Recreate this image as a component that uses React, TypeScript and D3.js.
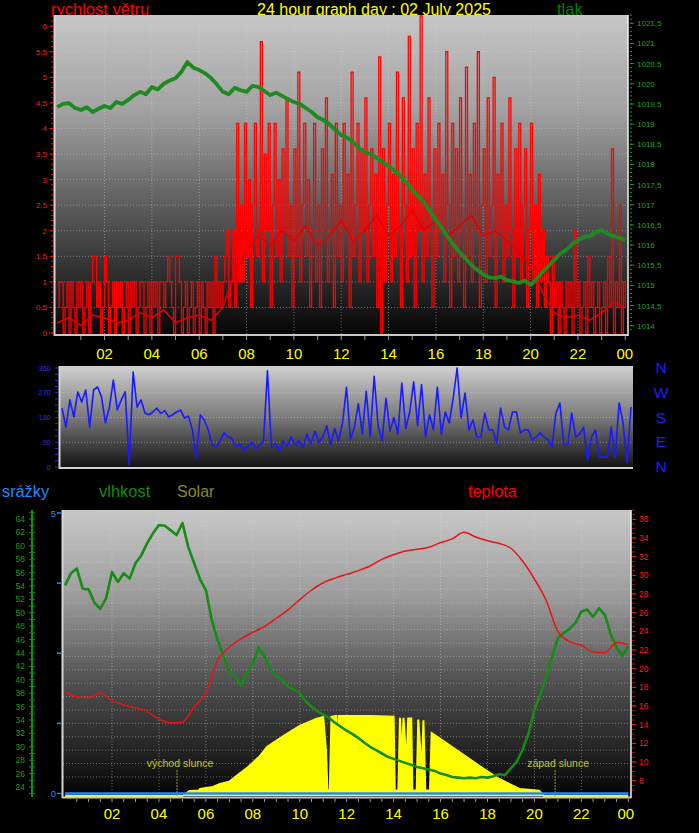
import React from "react";
import * as d3 from "d3";

// ---------------- DATA ----------------
const hourTickValues = [2, 4, 6, 8, 10, 12, 14, 16, 18, 20, 22, 24];
const hourTickLabels = ["02", "04", "06", "08", "10", "12", "14", "16", "18", "20", "22", "00"];

// wind speed (m/s), sampled every 5 minutes 00:00 .. 24:00
const windSpeed = [
  0.5, 1, 1, 0, 0.5, 1, 0, 1, 0.5, 0, 1, 0.5,
  1, 0, 0.5, 1, 0, 1, 1.5, 1.5, 0.5, 1, 0, 0.5,
  1.5, 1, 0, 0.5, 1, 0, 1, 0.5, 1, 0, 0.5, 1,
  0, 1, 0.5, 1, 0, 0.5, 1, 1, 0, 0.5, 1, 0,
  1, 0.5, 1, 0, 1, 1, 0.5, 1, 1.5, 1, 0.5, 0,
  1.5, 1.5, 1, 0, 0.5, 1, 0, 0.5, 1, 0, 0.5, 1,
  0, 1, 0.5, 0, 1, 0.5, 1, 0, 1.5, 0.5, 1, 0.5,
  1, 1.5, 2, 0.5, 1, 2, 0.5, 4.1, 1, 2.5, 1, 4.1,
  1.5, 3, 0.5, 2.5, 4.1, 1.5, 2, 5.7, 1, 3.5, 2, 4.1,
  0.5, 2.5, 4.1, 1.5, 3, 1, 3.6, 2, 4.6, 1.5, 2.5, 0.5,
  3.6, 1.5, 5.1, 1, 2.5, 4.1, 1.5, 3, 0.5, 2, 4.1, 1,
  2.5, 0.5, 3.6, 2, 4.6, 1, 2, 3.1, 0.5, 4.1, 1.5, 2.5,
  1, 4.1, 2, 3.1, 0.5, 5.1, 1.5, 2.5, 4.1, 1, 3.6, 2,
  4.6, 1, 2.5, 3.6, 1.5, 3.1, 0.5, 5.4, 0, 3.6, 1, 2.5,
  4.1, 1, 3.1, 1.5, 5.1, 2, 0.5, 4.6, 2.5, 1, 5.8, 1.5,
  3.6, 0.5, 4.1, 2, 6.2, 1, 3.1, 1.5, 4.6, 2, 0.5, 3.6,
  1.5, 4.1, 2, 3.1, 1, 5.5, 2.5, 0.5, 4.1, 1.5, 3.6, 1,
  4.6, 2, 0.5, 5.2, 1.5, 3.1, 1, 4.1, 2, 5.5, 0.5, 2.5,
  3.6, 1, 4.6, 1.5, 2.5, 5, 0.5, 3.1, 2, 4.1, 1, 2.5,
  1.5, 4.6, 2, 0.5, 3.6, 1.5, 4.1, 1, 2.5, 3.6, 0.5, 2,
  4.1, 1, 2.5, 0.5, 3.1, 1, 2, 0.5, 1.5, 1, 0, 1.5,
  0.5, 1, 0, 1, 0.5, 0, 1, 0.5, 1, 0, 2, 0.5,
  1, 0, 0.5, 1, 0, 1.5, 0.5, 1, 0, 0.5, 1, 0,
  0.5, 1, 0, 1.5, 0.5, 3.6, 0, 1, 0.5, 2.5, 0, 1,
  0.5,
];

// average wind speed (m/s), every 30 minutes
const windAverage = [
  0.2, 0.3, 0.15, 0.35, 0.3, 0.2, 0.25, 0.4, 0.3, 0.45, 0.2, 0.3, 0.35, 0.25, 0.5,
  1.2, 1.6, 1.9, 1.7, 2.0, 1.8, 2.1, 1.7, 1.9, 2.2, 1.8, 2.0, 2.3, 1.9, 2.1, 2.4,
  2.0, 2.2, 1.9, 2.1, 2.3, 1.9, 2.0, 1.8, 1.6, 1.3, 0.8, 0.4, 0.3, 0.35, 0.25, 0.4,
  0.6, 0.5,
];

// pressure (hPa), every 15 minutes
const pressure = [
  1019.42, 1019.50, 1019.52, 1019.40, 1019.35, 1019.42, 1019.30, 1019.38,
  1019.45, 1019.40, 1019.55, 1019.50, 1019.60, 1019.72, 1019.80, 1019.74,
  1019.92, 1019.86, 1020.00, 1020.08, 1020.14, 1020.30, 1020.54, 1020.40,
  1020.34, 1020.26, 1020.14, 1019.98, 1019.80, 1019.74, 1019.90, 1019.84,
  1019.80, 1019.95, 1019.92, 1019.82, 1019.72, 1019.78, 1019.70, 1019.62,
  1019.55, 1019.50, 1019.40, 1019.30, 1019.17, 1019.10, 1019.00, 1018.85,
  1018.73, 1018.66, 1018.56, 1018.40, 1018.31, 1018.25, 1018.16, 1018.05,
  1017.96, 1017.85, 1017.71, 1017.55, 1017.37, 1017.22, 1017.05, 1016.85,
  1016.62, 1016.42, 1016.20, 1016.00, 1015.83, 1015.66, 1015.51, 1015.38,
  1015.28, 1015.20, 1015.18, 1015.22, 1015.13, 1015.10, 1015.06, 1015.12,
  1015.01, 1015.15, 1015.33, 1015.48, 1015.63, 1015.78, 1015.88, 1016.02,
  1016.12, 1016.20, 1016.22, 1016.32, 1016.37, 1016.28, 1016.22, 1016.18,
  1016.12,
];

// wind direction (degrees), every 10 minutes
const windDirection = [
  214, 145, 244, 182, 273, 236,
  280, 145, 280, 291, 255, 160,
  218, 316, 207, 244, 273, 7,
  345, 218, 244, 196, 190, 200,
  214, 195, 205, 182, 190, 200,
  207, 178, 185, 135, 33, 189,
  171, 135, 80, 73, 95, 124,
  109, 105, 70, 85, 60, 75,
  90, 65, 80, 95, 350, 70,
  85, 60, 95, 75, 110, 80,
  95, 70, 120, 85, 130, 90,
  110, 150, 80, 140, 95, 160,
  290, 100, 145, 230, 120, 275,
  110, 330, 150, 95, 250, 130,
  180, 120, 305, 140, 200, 310,
  150, 300, 110, 190, 135, 290,
  120, 200, 160, 250, 360, 178,
  269, 135, 171, 109, 109, 196,
  135, 135, 87, 214, 145, 135,
  200, 200, 124, 135, 135, 98,
  110, 124, 110, 98, 73, 196,
  233, 80, 80, 196, 109, 120,
  145, 25, 109, 135, 36, 36,
  36, 145, 36, 233, 160, 15,
  218,
];

// relative humidity (%), every 15 minutes
const humidity = [
  54.1, 55.9, 56.6, 53.6, 53.5, 51.5, 50.6, 52.2, 56.1, 54.6, 55.9, 55.1,
  57.4, 58.6, 60.4, 61.9, 63.1, 63.0, 62.3, 61.6, 63.4, 59.8, 57.4, 55.0,
  53.4, 48.9, 45.9, 43.5, 41.2, 40.5, 39.2, 41.0, 42.5, 44.8, 43.5, 41.5,
  40.5, 40.0, 39.0, 38.5, 38.0, 36.8, 36.0, 35.3, 34.8, 34.3, 33.6, 33.0,
  32.4, 31.9, 31.3, 30.6, 30.0, 29.5, 29.0, 28.5, 28.2, 27.9, 27.6, 27.3,
  27.0, 26.8, 26.6, 26.4, 26.0, 25.8, 25.5, 25.4, 25.3, 25.4, 25.3, 25.5,
  25.4, 25.6, 25.9, 25.8, 26.8, 27.8, 29.6, 32.0, 35.5, 37.8, 40.5, 43.4,
  46.2, 47.0, 47.6, 48.5, 50.2, 50.5, 49.4, 50.7, 49.7, 46.8, 44.8, 43.6,
  45.0,
];

// temperature (°C), every 30 minutes
const temperature = [
  17.5, 17.0, 16.9, 17.4, 16.6, 16.1, 15.8, 15.4, 14.6, 14.2,
  14.3, 15.9, 17.4, 20.9, 22.3, 23.2, 23.9, 24.5, 25.4, 26.3,
  27.4, 28.4, 29.2, 29.7, 30.1, 30.5, 31.0, 31.7, 32.2, 32.6,
  32.8, 33.0, 33.5, 33.9, 34.6, 34.1, 33.7, 33.4, 32.9, 31.5,
  29.6, 27.3, 24.0, 22.9, 22.5, 21.8, 21.7, 22.8, 22.6,
];

// solar radiation (W/m²)
const solarHours = [
  0, 5.0, 5.3, 5.7, 5.75, 6.3, 6.6, 7.0, 7.3, 7.8, 8.3, 8.6, 9.3, 10.0, 10.7, 11.0,
  11.12, 11.18, 11.28, 11.35, 11.55, 11.6, 11.66, 12.0, 13.0, 14.0, 14.05, 14.2, 14.27,
  14.35, 14.42, 14.55, 14.62, 14.75, 14.8, 14.98, 15.05, 15.2, 15.27, 15.35, 15.55,
  15.62, 16.0, 16.8, 17.66, 18.5, 19.36, 20.2, 20.4, 24,
];
const solarRadiation = [
  0, 0, 56, 60, 78, 100, 133, 160, 222, 322, 444, 544, 667, 778, 856, 878,
  500, 60, 60, 880, 889, 300, 889, 889, 889, 880, 60, 60, 870,
  400, 870, 350, 860, 860, 60, 60, 850, 250, 840, 60, 60,
  700, 633, 489, 333, 189, 78, 59, 0, 0,
];

// rainfall (mm), hourly
const rainfall = [0, 0, 0, 0, 0, 0, 0, 0, 0, 0, 0, 0, 0, 0, 0, 0, 0, 0, 0, 0, 0, 0, 0, 0, 0];

const sunriseHour = 4.77;
const sunsetHour = 20.88;
const sunriseLabel = "východ slunce";
const sunsetLabel = "západ slunce";

const windTicks = [0, 0.5, 1, 1.5, 2, 2.5, 3, 3.5, 4, 4.5, 5, 5.5, 6];
const pressureTicks = [1014, 1014.5, 1015, 1015.5, 1016, 1016.5, 1017, 1017.5, 1018, 1018.5, 1019, 1019.5, 1020, 1020.5, 1021, 1021.5];
const directionTicks = [0, 90, 180, 270, 360];
const directionLetters = ["N", "W", "S", "E", "N"];
const humidityTicks = [24, 26, 28, 30, 32, 34, 36, 38, 40, 42, 44, 46, 48, 50, 52, 54, 56, 58, 60, 62, 64];
const temperatureTicks = [8, 10, 12, 14, 16, 18, 20, 22, 24, 26, 28, 30, 32, 34, 36];
const rainTicks = [0, 5];

const titleText = "24 hour graph day : 02 July 2025";

// ---------------- CHART ----------------
const fmt = (v: number) => String(v).replace(".", ",");
const FONT = "'Liberation Sans', Arial, Helvetica, sans-serif";

export default function App() {
  // top panel
  const T = { l: 55, r: 628, t: 15, b: 334 };
  const xTop = d3.scaleLinear().domain([0, 24]).range([57.2, 625.3]);
  const windY = d3.scaleLinear().domain([0, 6]).range([333, 26.2]);
  const pressY = d3.scaleLinear().domain([1014, 1021.5]).range([325.7, 23.3]);

  // middle panel
  const M = { l: 60, r: 633, t: 366, b: 468 };
  const xMid = d3.scaleLinear().domain([0, 24]).range([62, 631]);
  const dirY = d3.scaleLinear().domain([0, 360]).range([467, 368]);

  // bottom panel
  const B = { l: 63, r: 631, t: 510, b: 797 };
  const xBot = d3.scaleLinear().domain([0, 24]).range([65.1, 628.3]);
  const humY = d3.scaleLinear().domain([24, 64]).range([787, 519]);
  const tempY = d3.scaleLinear().domain([8, 36]).range([780.7, 519.3]);
  const rainY = d3.scaleLinear().domain([0, 5]).range([793.5, 513]);
  const solarY = d3.scaleLinear().domain([0, 1000]).range([796, 706]);

  const windPath = d3
    .line<number>()
    .x((_, i) => xTop((i * 5) / 60))
    .y((d) => windY(d))
    .curve(d3.curveStepAfter)(windSpeed) as string;
  const windAvgPath = d3
    .line<number>()
    .x((_, i) => xTop(i * 0.5))
    .y((d) => windY(d))(windAverage) as string;
  const pressPath = d3
    .line<number>()
    .x((_, i) => xTop(i * 0.25))
    .y((d) => pressY(d))(pressure) as string;

  const dirPath = d3
    .line<number>()
    .x((_, i) => xMid((i * 10) / 60))
    .y((d) => dirY(d))(windDirection) as string;

  const humPath = d3
    .line<number>()
    .x((_, i) => xBot(i * 0.25))
    .y((d) => humY(d))(humidity) as string;
  const tempPath = d3
    .line<number>()
    .x((_, i) => xBot(i * 0.5))
    .y((d) => tempY(d))
    .curve(d3.curveMonotoneX)(temperature) as string;
  const solarArea = d3
    .area<number>()
    .x((_, i) => xBot(solarHours[i]))
    .y0(solarY(0))
    .y1((d) => solarY(d))(solarRadiation) as string;
  const solarLine = d3
    .line<number>()
    .x((_, i) => xBot(solarHours[i]))
    .y((d) => solarY(d))(solarRadiation) as string;
  const rainPath = d3
    .line<number>()
    .x((_, i) => xBot(i))
    .y((d) => rainY(d))(rainfall) as string;

  const windMinor = d3.range(0, 6.25, 0.1);
  const pressMinor = d3.range(1013.9, 1021.75, 0.1);
  const dirMinor = d3.range(0, 361, 22.5);
  const humMinor = d3.range(23, 66, 1);
  const tempMinor = d3.range(7, 37.1, 0.5);
  const rainMinor = d3.range(0, 5.01, 1.25);
  const hourGrid = [2, 4, 6, 8, 10, 12, 14, 16, 18, 20, 22];
  const humGrid = d3.range(25.5, 65, 2);

  const gridStyle = { stroke: "#d8d8d8", strokeOpacity: 0.45, strokeWidth: 1, strokeDasharray: "1,2" };

  return (
    <svg
      width={699}
      height={833}
      style={{ position: "absolute", left: 0, top: 0, display: "block" }}
      fontFamily={FONT}
    >
      <defs>
        <linearGradient id="gTop" x1="0" y1="0" x2="0" y2="1">
          <stop offset="0" stopColor="#c6c6c6" />
          <stop offset="0.3" stopColor="#a2a2a2" />
          <stop offset="0.6" stopColor="#5c5c5c" />
          <stop offset="1" stopColor="#060606" />
        </linearGradient>
        <linearGradient id="gMid" x1="0" y1="0" x2="0" y2="1">
          <stop offset="0" stopColor="#d0d0d0" />
          <stop offset="0.5" stopColor="#7a7a7a" />
          <stop offset="1" stopColor="#121212" />
        </linearGradient>
        <linearGradient id="gBot" x1="0" y1="0" x2="0" y2="1">
          <stop offset="0" stopColor="#c8c8c8" />
          <stop offset="0.3" stopColor="#9c9c9c" />
          <stop offset="0.6" stopColor="#505050" />
          <stop offset="1" stopColor="#040404" />
        </linearGradient>
        <clipPath id="cTop">
          <rect x={T.l} y={T.t} width={T.r - T.l} height={T.b - T.t} />
        </clipPath>
        <clipPath id="cMid">
          <rect x={M.l} y={M.t} width={M.r - M.l} height={M.b - M.t} />
        </clipPath>
        <clipPath id="cBot">
          <rect x={B.l} y={B.t} width={B.r - B.l} height={B.b - B.t} />
        </clipPath>
      </defs>
      <rect x={0} y={0} width={699} height={833} fill="#000" />

      {/* ---------- titles row 1 ---------- */}
      <text x={51} y={15} fontSize={16.5} fill="#ff0000">rychlost větru</text>
      <text x={257} y={15} fontSize={16} fill="#ffff00">{titleText}</text>
      <text x={557} y={15} fontSize={16.5} fill="#008000">tlak</text>

      {/* ---------- TOP PANEL ---------- */}
      <rect x={T.l} y={T.t} width={T.r - T.l} height={T.b - T.t} fill="url(#gTop)" />
      {windTicks.slice(1).map((v) => (
        <line key={"wg" + v} x1={T.l} x2={T.r} y1={windY(v)} y2={windY(v)} {...gridStyle} />
      ))}
      {hourGrid.map((h) => (
        <line key={"tg" + h} x1={xTop(h)} x2={xTop(h)} y1={T.t} y2={T.b} {...gridStyle} />
      ))}
      <g clipPath="url(#cTop)">
        <path d={windPath} fill="none" stroke="#ff0000" strokeWidth={1.3} />
        <path d={windAvgPath} fill="none" stroke="#e00000" strokeWidth={1.6} />
        <path d={pressPath} fill="none" stroke="#1f8a1f" strokeWidth={3.8} strokeLinejoin="round" />
      </g>
      <line x1={T.l - 0.5} x2={T.l - 0.5} y1={T.t} y2={T.b + 2} stroke="#d4d4d4" strokeWidth={2} />
      <line x1={T.l - 1} x2={T.r} y1={T.b + 1} y2={T.b + 1} stroke="#c8c8c8" strokeWidth={2} />
      <line x1={T.r} x2={T.r} y1={T.t} y2={T.b + 2} stroke="#f0f0f0" strokeWidth={1.5} />

      {/* left wind axis */}
      {windMinor.map((v, i) => (
        <line key={"wm" + i} x1={51} x2={53} y1={windY(v)} y2={windY(v)} stroke="#ff0000" strokeWidth={1} />
      ))}
      {windTicks.map((v) => (
        <g key={"wt" + v}>
          <line x1={49} x2={53} y1={windY(v)} y2={windY(v)} stroke="#ff0000" strokeWidth={1} />
          <text x={47} y={windY(v) + 3} fontSize={8} fill="#ff1a1a" textAnchor="end">{fmt(v)}</text>
        </g>
      ))}
      {/* right pressure axis */}
      {pressMinor.map((v, i) => (
        <line key={"pm" + i} x1={630} x2={632} y1={pressY(v)} y2={pressY(v)} stroke="#1f9a1f" strokeWidth={1} />
      ))}
      {pressureTicks.map((v) => (
        <g key={"pt" + v}>
          <line x1={630} x2={634} y1={pressY(v)} y2={pressY(v)} stroke="#1f9a1f" strokeWidth={1} />
          <text x={637} y={pressY(v) + 3} fontSize={8} fill="#22a022">{fmt(v)}</text>
        </g>
      ))}
      {/* top x axis */}
      {d3.range(1, 25).map((h) => (
        <line key={"tx" + h} x1={xTop(h)} x2={xTop(h)} y1={T.b + 2} y2={T.b + 6} stroke="#9a9a9a" strokeWidth={1} />
      ))}
      {hourTickValues.map((h, i) => (
        <text key={"tl" + h} x={h === 24 ? xTop(h) - 0.5 : xTop(h)} y={359} fontSize={15} fill="#ffff00" textAnchor="middle">
          {hourTickLabels[i]}
        </text>
      ))}

      {/* ---------- MIDDLE PANEL ---------- */}
      <rect x={M.l} y={M.t} width={M.r - M.l} height={M.b - M.t} fill="url(#gMid)" />
      {[90, 180, 270].map((v) => (
        <line key={"dg" + v} x1={M.l} x2={M.r} y1={dirY(v)} y2={dirY(v)} {...gridStyle} />
      ))}
      <g clipPath="url(#cMid)">
        <path d={dirPath} fill="none" stroke="#1a1aff" strokeWidth={1.6} strokeLinejoin="round" />
      </g>
      <line x1={M.l - 0.5} x2={M.l - 0.5} y1={M.t} y2={M.b + 1} stroke="#d4d4d4" strokeWidth={2} />
      <line x1={M.l - 1} x2={M.r} y1={M.b} y2={M.b} stroke="#d0d0d0" strokeWidth={2} />
      {dirMinor.map((v, i) => (
        <line key={"dm" + i} x1={55} x2={58} y1={dirY(v)} y2={dirY(v)} stroke="#2a2aff" strokeWidth={1} />
      ))}
      {directionTicks.map((v) => (
        <text key={"dt" + v} x={51} y={dirY(v) + 2.5} fontSize={7.5} fill="#2a2aff" textAnchor="end">{v}</text>
      ))}
      {directionLetters.map((c, i) => (
        <text key={"dl" + i} x={661} y={373 + i * 24.8} fontSize={15.5} fill="#1e1eff" textAnchor="middle">{c}</text>
      ))}

      {/* ---------- titles row 2 ---------- */}
      <text x={2} y={497} fontSize={16.3} fill="#1e8cff">srážky</text>
      <text x={99} y={497} fontSize={16.5} fill="#128a12">vlhkost</text>
      <text x={177} y={497} fontSize={16} fill="#8a8a1e">Solar</text>
      <text x={468} y={497} fontSize={16.3} fill="#ff0000">teplota</text>

      {/* ---------- BOTTOM PANEL ---------- */}
      <rect x={B.l} y={B.t} width={B.r - B.l} height={B.b - B.t} fill="url(#gBot)" />
      {humGrid.map((v) => (
        <line key={"hg" + v} x1={B.l} x2={B.r} y1={humY(v)} y2={humY(v)} {...gridStyle} />
      ))}
      {hourGrid.map((h) => (
        <line key={"bg" + h} x1={xBot(h)} x2={xBot(h)} y1={B.t} y2={B.b} {...gridStyle} />
      ))}
      <g clipPath="url(#cBot)">
        <path d={solarArea} fill="#ffff00" stroke="none" />
        <path d={solarLine} fill="none" stroke="#ffff00" strokeWidth={2} />
        <line x1={xBot(sunriseHour)} x2={xBot(sunriseHour)} y1={770} y2={B.b} stroke="#9a9a20" strokeWidth={1} strokeDasharray="2,1" />
        <line x1={xBot(sunsetHour)} x2={xBot(sunsetHour)} y1={770} y2={B.b} stroke="#9a9a20" strokeWidth={1} strokeDasharray="2,1" />
        <path d={rainPath} fill="none" stroke="#1e8cff" strokeWidth={2.5} />
        <path d={humPath} fill="none" stroke="#168c16" strokeWidth={2.6} strokeLinejoin="round" />
        <path d={tempPath} fill="none" stroke="#ee1111" strokeWidth={1.5} />
      </g>
      <text x={xBot(sunriseHour) + 3} y={767} fontSize={10.5} fill="#c4c42c" textAnchor="middle">{sunriseLabel}</text>
      <text x={xBot(sunsetHour) + 3} y={767} fontSize={10.5} fill="#c4c42c" textAnchor="middle">{sunsetLabel}</text>
      <line x1={B.l - 0.5} x2={B.l - 0.5} y1={B.t} y2={B.b + 1} stroke="#d4d4d4" strokeWidth={2} />
      <line x1={B.l - 1} x2={B.r} y1={B.b + 0.5} y2={B.b + 0.5} stroke="#c8c8c8" strokeWidth={2} />
      <line x1={B.r} x2={B.r} y1={B.t} y2={B.b + 1} stroke="#f2f2f2" strokeWidth={1.5} />

      {/* humidity axis (far left) */}
      <line x1={32} x2={32} y1={B.t} y2={B.b} stroke="#138f13" strokeWidth={2} />
      {humMinor.map((v) => (
        <line key={"hm" + v} x1={29} x2={35} y1={humY(v)} y2={humY(v)} stroke="#138f13" strokeWidth={1} />
      ))}
      {humidityTicks.map((v) => (
        <text key={"ht" + v} x={25} y={humY(v) + 3} fontSize={8.5} fill="#1c9a1c" textAnchor="end">{v}</text>
      ))}
      {/* rain axis */}
      {rainMinor.map((v, i) => (
        <line key={"rm" + i} x1={57} x2={61} y1={rainY(v)} y2={rainY(v)} stroke="#1e8cff" strokeWidth={1.5} />
      ))}
      {rainTicks.map((v) => (
        <text key={"rt" + v} x={56} y={rainY(v) + 3.5} fontSize={9.5} fill="#1e8cff" textAnchor="end">{v}</text>
      ))}
      {/* temperature axis (right) */}
      {tempMinor.map((v, i) => (
        <line key={"tm" + i} x1={632.5} x2={634.5} y1={tempY(v)} y2={tempY(v)} stroke="#ff1a1a" strokeWidth={1} />
      ))}
      {temperatureTicks.map((v) => (
        <g key={"tt" + v}>
          <line x1={632.5} x2={636.5} y1={tempY(v)} y2={tempY(v)} stroke="#ff1a1a" strokeWidth={1} />
          <text x={639} y={tempY(v) + 3} fontSize={8.5} fill="#ff1a1a">{v}</text>
        </g>
      ))}
      {/* bottom x axis */}
      {d3.range(0.5, 24.01, 0.5).map((h) => (
        <line key={"bx" + h} x1={xBot(h)} x2={xBot(h)} y1={B.b + 2} y2={B.b + 5} stroke="#9a9a9a" strokeWidth={1} />
      ))}
      {hourTickValues.map((h, i) => (
        <text key={"bl" + h} x={h === 24 ? xBot(h) - 2.5 : xBot(h)} y={819} fontSize={15} fill="#ffff00" textAnchor="middle">
          {hourTickLabels[i]}
        </text>
      ))}
    </svg>
  );
}
